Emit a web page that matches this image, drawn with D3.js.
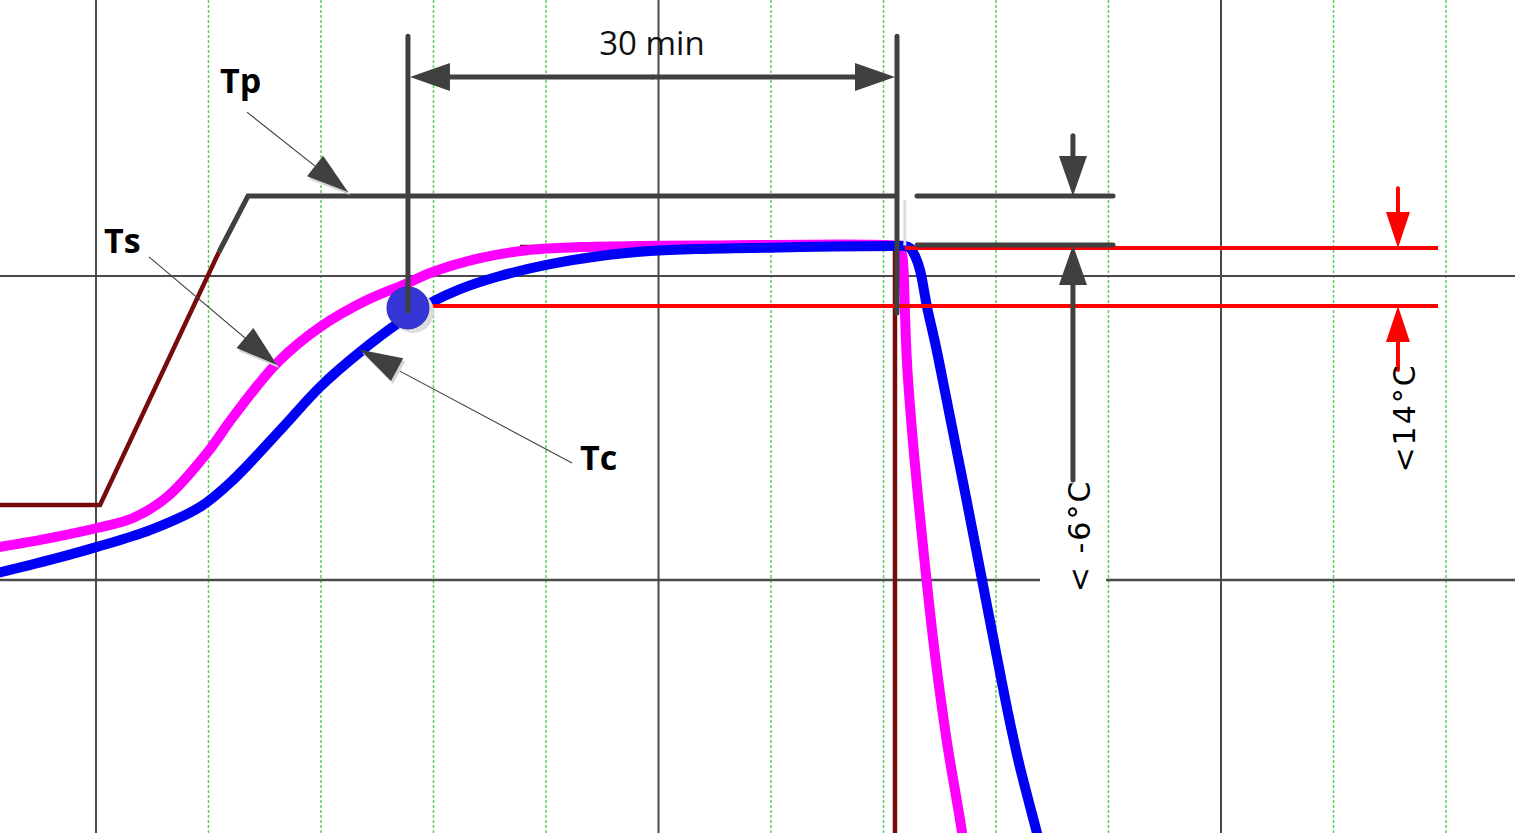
<!DOCTYPE html>
<html><head><meta charset="utf-8">
<script src="https://cdn.jsdelivr.net/npm/d3@7"></script>
<style>html,body{margin:0;padding:0;background:#fff;overflow:hidden}</style>
</head><body>
<svg id="c" width="1515" height="833"></svg>
<script>
// ---------- data (x: grid divisions, y: major divisions) ----------
const majorX = [0, 5, 10];
const minorX = [1, 2, 3, 4, 6, 7, 8, 9, 11, 12];
const majorYSegments = [[1, -1, 13], [0, -1, 8.391], [0, 8.978, 13]];

const setpointRise = [[-0.9, 0.247], [0.036, 0.247], [1.093, 1.079]];
const setpointHold = [[3.769, 1.095], [7.102, 1.095], [7.102, -0.9]];
const tpLine = [[1.093, 1.079], [1.351, 1.263], [7.12, 1.263]];

const tsSeries = [[-0.9, 0.106], [-0.409, 0.138], [0.009, 0.171], [0.329, 0.204], [0.631, 0.273],
  [0.987, 0.418], [1.218, 0.536], [1.609, 0.714], [1.991, 0.832], [2.409, 0.921], [2.773, 0.977],
  [2.969, 1.010], [3.413, 1.059], [3.858, 1.086], [4.302, 1.095], [4.836, 1.099], [5.369, 1.100],
  [7.102, 1.100], [7.138, 1.095], [7.164, 1.072], [7.178, 1.020], [7.187, 0.921], [7.209, 0.714],
  [7.253, 0.493], [7.307, 0.273], [7.378, 0.016], [7.458, -0.247], [7.564, -0.533], [7.698, -0.832],
  [7.707, -0.872]];

const tcSeries = [[-0.9, 0.021], [-0.409, 0.066], [0.009, 0.109], [0.48, 0.164], [0.924, 0.240],
  [1.218, 0.329], [1.662, 0.503], [1.991, 0.635], [2.347, 0.750], [2.702, 0.849], [2.969, 0.911],
  [3.236, 0.957], [3.591, 1.0], [4.036, 1.039], [4.480, 1.066], [4.924, 1.082], [5.369, 1.089],
  [6.258, 1.095], [7.102, 1.099], [7.191, 1.099], [7.236, 1.092], [7.280, 1.066], [7.324, 1.020],
  [7.387, 0.898], [7.467, 0.766], [7.556, 0.602], [7.644, 0.438], [7.733, 0.273], [7.876, 0],
  [7.991, -0.220], [8.107, -0.438], [8.204, -0.602], [8.364, -0.832], [8.391, -0.872]];

const tcPoint = [2.773, 0.895];

// dimension: 30 min hold
const holdX = [2.773, 7.12];
const holdTop = 1.789, holdArrowY = 1.655, holdBottom = [0.885, 0.878];
const holdLabel = ["30 min", 4.942, 1.727];

// Tp – Ts band (< -6 °C)
const bandLevels = [1.263, 1.102];
const bandX = [7.298, 9.04];
const bandArrowX = 8.684, bandDownFrom = 1.461, bandUpFrom = 0.329;
const bandLabel = ["< -6°C", 8.836, 0.145];

// red tolerance band (<14 °C)
const redLevels = [1.092, 0.901];
const redStart = [7.191, 2.969], redEnd = 11.929;
const redArrowX = 11.573, redDownFrom = 1.289, redUpFrom = 0.691;
const redLabel = ["<14°C", 11.724, 0.533];

// curve labels with leader lines: [text, textX, textY, fromX, fromY, tipX, tipY]
const curveLabels = [
  ["Tp", 1.102, 1.602, 1.342, 1.539, 2.24, 1.276],
  ["Ts", 0.071, 1.076, 0.471, 1.063, 1.609, 0.707],
  ["Tc", 4.302, 0.362, 4.231, 0.385, 2.347, 0.757]
];

// ---------- drawing ----------
const W = 1515, H = 833;
const svg = d3.select("#c");
const x = d3.scaleLinear().domain([0, 12]).range([96, 1446]);
const y = d3.scaleLinear().domain([0, 1]).range([580, 276]);
const GRAY = "#404040";

// grid
svg.append("g").selectAll("line").data(minorX).join("line")
  .attr("x1", d => x(d)).attr("x2", d => x(d)).attr("y1", 0).attr("y2", H)
  .attr("stroke", "#5ccf5c").attr("stroke-width", 1.5).attr("stroke-dasharray", "3,2");
svg.append("g").selectAll("line").data(majorX).join("line")
  .attr("x1", d => x(d)).attr("x2", d => x(d)).attr("y1", 0).attr("y2", H)
  .attr("stroke", "#4a4a4a").attr("stroke-width", 2);
svg.append("g").selectAll("line").data(majorYSegments).join("line")
  .attr("x1", d => x(d[1])).attr("x2", d => x(d[2])).attr("y1", d => y(d[0])).attr("y2", d => y(d[0]))
  .attr("stroke", "#4a4a4a").attr("stroke-width", d => d[0] === 0 ? 2.6 : 2);

const lin = d3.line().x(d => x(d[0])).y(d => y(d[1]));
const smooth = d3.line().x(d => x(d[0])).y(d => y(d[1])).curve(d3.curveCatmullRom.alpha(0.5));

// setpoint (dark red)
[setpointRise, setpointHold].forEach(s =>
  svg.append("path").attr("d", lin(s)).attr("fill", "none")
    .attr("stroke", "#750b0b").attr("stroke-width", 4.5));

// Tp line
svg.append("path").attr("d", lin(tpLine)).attr("fill", "none")
  .attr("stroke", GRAY).attr("stroke-width", 5);

// curves
svg.append("path").attr("d", smooth(tsSeries)).attr("fill", "none")
  .style("stroke", "#ff00ff").style("stroke-width", "10px").style("stroke-linejoin", "round");
svg.append("path").attr("d", smooth(tcSeries)).attr("fill", "none")
  .style("stroke", "#0000f5").style("stroke-width", "10px").style("stroke-linejoin", "round");

// red tolerance lines
svg.append("g").selectAll("line").data(redLevels).join("line")
  .attr("x1", (d, i) => x(redStart[i])).attr("x2", x(redEnd))
  .attr("y1", d => y(d)).attr("y2", d => y(d))
  .attr("stroke", "#ff0000").attr("stroke-width", 4);

// arrowhead helper (pixel space)
function head(tx, ty, fx, fy, len, hw) {
  const dx = tx - fx, dy = ty - fy, L = Math.hypot(dx, dy);
  const ux = dx / L, uy = dy / L;
  const bx = tx - ux * len, by = ty - uy * len;
  return [[tx, ty], [bx - uy * hw, by + ux * hw], [bx + uy * hw, by - ux * hw]]
    .map(p => p.join(",")).join(" ");
}
function arrow(g, fx, fy, tx, ty, color, w, len, hw) {
  const L = Math.hypot(tx - fx, ty - fy);
  g.append("line").attr("x1", fx).attr("y1", fy)
    .attr("x2", tx - (tx - fx) / L * len * 0.8)
    .attr("y2", ty - (ty - fy) / L * len * 0.8)
    .attr("stroke", color).attr("stroke-width", w).attr("stroke-linecap", "round");
  g.append("polygon").attr("points", head(tx, ty, fx, fy, len, hw)).attr("fill", color);
}

// red arrows
const ga = svg.append("g");
arrow(ga, x(redArrowX), y(redDownFrom), x(redArrowX), y(redLevels[0]), "#ff0000", 4, 36, 12);
arrow(ga, x(redArrowX), y(redUpFrom), x(redArrowX), y(redLevels[1]), "#ff0000", 4, 36, 12);

// light shadow near hold end
svg.append("line").attr("x1", x(7.19)).attr("x2", x(7.19)).attr("y1", y(1.25)).attr("y2", y(1.1))
  .attr("stroke", "#dddddd").attr("stroke-width", 3);

// Tp – Ts band lines and arrows
svg.append("g").selectAll("line").data(bandLevels).join("line")
  .attr("x1", x(bandX[0])).attr("x2", x(bandX[1])).attr("y1", d => y(d)).attr("y2", d => y(d))
  .attr("stroke", GRAY).attr("stroke-width", 5).attr("stroke-linecap", "round");
arrow(ga, x(bandArrowX), y(bandDownFrom), x(bandArrowX), y(bandLevels[0]), GRAY, 5, 40, 14);
arrow(ga, x(bandArrowX), y(bandUpFrom), x(bandArrowX), y(bandLevels[1]), GRAY, 5, 40, 14);

// Tc point
svg.append("circle").attr("cx", x(tcPoint[0]) + 5).attr("cy", y(tcPoint[1]) + 4).attr("r", 21)
  .attr("fill", "#dcdcdc");
svg.append("circle").attr("cx", x(tcPoint[0])).attr("cy", y(tcPoint[1])).attr("r", 21)
  .attr("fill", "#3636d8").attr("stroke", "#2a2ab4").attr("stroke-width", 1);

// hold dimension
svg.append("g").selectAll("line").data(holdX).join("line")
  .attr("x1", d => x(d)).attr("x2", d => x(d)).attr("y1", y(holdTop)).attr("y2", (d, i) => y(holdBottom[i]))
  .attr("stroke", GRAY).attr("stroke-width", 5).attr("stroke-linecap", "round");
const mid = (x(holdX[0]) + x(holdX[1])) / 2;
arrow(ga, mid, y(holdArrowY), x(holdX[0]) + 2, y(holdArrowY), GRAY, 5, 40, 14);
arrow(ga, mid, y(holdArrowY), x(holdX[1]) - 2, y(holdArrowY), GRAY, 5, 40, 14);
svg.append("text").attr("x", x(holdLabel[1])).attr("y", y(holdLabel[2]))
  .attr("text-anchor", "middle").attr("font-family", "Open Sans").attr("font-size", 33)
  .attr("fill", "#111").text(holdLabel[0]);

// rotated labels
[bandLabel, redLabel].forEach(l =>
  svg.append("text").attr("transform", `translate(${x(l[1])},${y(l[2])}) rotate(-90)`)
    .attr("text-anchor", "middle").attr("font-family", "DejaVu Sans").attr("font-size", 30)
    .attr("letter-spacing", 2).attr("fill", "#000").text(l[0]));

// curve labels with leaders
curveLabels.forEach(l => {
  const g = svg.append("g");
  g.append("line").attr("x1", x(l[3])).attr("y1", y(l[4])).attr("x2", x(l[5])).attr("y2", y(l[6]))
    .attr("stroke", GRAY).attr("stroke-width", 1.1);
  g.append("polygon").attr("points", head(x(l[5]) + 2, y(l[6]) + 3, x(l[3]) + 2, y(l[4]) + 3, 42, 13))
    .attr("fill", "#d4d4d4");
  g.append("polygon").attr("points", head(x(l[5]), y(l[6]), x(l[3]), y(l[4]), 42, 13)).attr("fill", GRAY);
  g.append("text").attr("x", x(l[1])).attr("y", y(l[2])).attr("font-family", "Open Sans")
    .attr("font-weight", "bold").attr("font-size", 34).attr("fill", "#000").text(l[0]);
});
</script>
</body></html>
